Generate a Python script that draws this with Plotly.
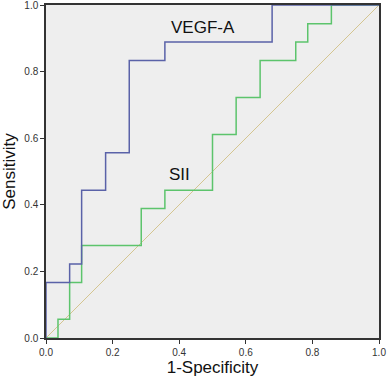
import plotly.graph_objects as go

# ROC data
vegf_fpr = [0.0, 0.0, 0.071, 0.107, 0.179, 0.25, 0.357, 0.679, 1.0]
vegf_tpr = [0.0, 0.167, 0.222, 0.444, 0.556, 0.833, 0.889, 1.0, 1.0]

sii_fpr = [0.0, 0.036, 0.071, 0.107, 0.286, 0.357, 0.5, 0.571, 0.643, 0.75, 0.786, 0.857, 1.0]
sii_tpr = [0.0, 0.056, 0.167, 0.278, 0.389, 0.444, 0.611, 0.722, 0.833, 0.889, 0.944, 1.0, 1.0]

ref_x = [0.0, 1.0]
ref_y = [0.0, 1.0]

tick_vals = [0.0, 0.2, 0.4, 0.6, 0.8, 1.0]
tick_text = ["0.0", "0.2", "0.4", "0.6", "0.8", "1.0"]

FONT = "Arial, Liberation Sans, sans-serif"

fig = go.Figure()
fig.add_trace(go.Scatter(x=ref_x, y=ref_y, mode="lines",
                         line=dict(color="#D4C590", width=1), hoverinfo="skip"))
fig.add_trace(go.Scatter(x=sii_fpr, y=sii_tpr, mode="lines", line_shape="hv",
                         line=dict(color="#5CC46C", width=1.5), name="SII"))
fig.add_trace(go.Scatter(x=vegf_fpr, y=vegf_tpr, mode="lines", line_shape="hv",
                         line=dict(color="#5A62A8", width=1.5), name="VEGF-A"))

fig.add_annotation(x=0.472, y=0.931, text="VEGF-A", showarrow=False,
                   font=dict(family=FONT, size=17, color="#111111"))
fig.add_annotation(x=0.402, y=0.492, text="SII", showarrow=False,
                   font=dict(family=FONT, size=17, color="#111111"))

axis_common = dict(range=[0, 1], tickvals=tick_vals, ticktext=tick_text,
                   showgrid=False, zeroline=False, showline=True, mirror=True,
                   linecolor="#333333", linewidth=1.5, ticks="outside", ticklen=4,
                   tickcolor="#333333", automargin=False, ticklabeloverflow="allow",
                   tickfont=dict(family=FONT, size=10, color="#333333"))

fig.update_xaxes(**axis_common, title=dict(text="1-Specificity", standoff=2,
                 font=dict(family=FONT, size=17, color="#111111")))
fig.update_yaxes(**axis_common, title=dict(text="Sensitivity", standoff=4,
                 font=dict(family=FONT, size=17, color="#111111")))

fig.update_layout(width=390, height=380, showlegend=False,
                  margin=dict(l=46, r=11, t=5, b=42),
                  plot_bgcolor="#EEEEEE", paper_bgcolor="#FFFFFF")

fig.write_html("out.html", config={"displayModeBar": False},
               post_script="document.body.style.margin='0';document.body.style.overflow='hidden';")
